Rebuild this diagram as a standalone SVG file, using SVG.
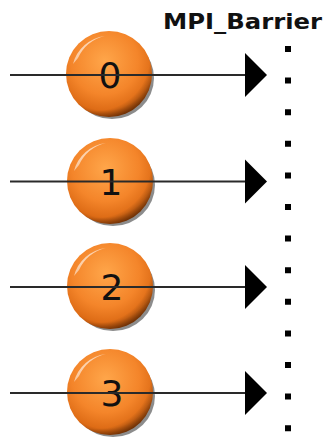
<svg xmlns="http://www.w3.org/2000/svg" width="326" height="437" viewBox="0 0 326 437">
<defs>
<radialGradient id="ball" cx="0.45" cy="0.35" r="0.65">
<stop offset="0" stop-color="#ffa64a"/>
<stop offset="0.6" stop-color="#f4852a"/>
<stop offset="0.88" stop-color="#de6c16"/>
<stop offset="1" stop-color="#a84a08"/>
</radialGradient>
<radialGradient id="shade" cx="0.35" cy="0.3" r="0.8">
<stop offset="0.78" stop-color="#000" stop-opacity="0"/>
<stop offset="1" stop-color="#000" stop-opacity="0.5"/>
</radialGradient>
<linearGradient id="hl" x1="0" y1="0" x2="1" y2="1">
<stop offset="0" stop-color="#fff" stop-opacity="0.9"/>
<stop offset="1" stop-color="#fff" stop-opacity="0.1"/>
</linearGradient>
<g id="sphere">
<ellipse cx="3" cy="4" rx="42" ry="41" fill="#000" opacity="0.45"/>
<circle r="43" fill="url(#ball)"/>
<circle r="43" fill="url(#shade)"/>
<path d="M-36,-10 A38,38 0 0 1 -4,-38 A40,40 0 0 0 -31,-16 Z" fill="url(#hl)"/>
</g>
</defs>
<style>
.lane{stroke:#2a2a2a;stroke-width:2;fill:none}
.head{fill:#000}
.num{font-family:"DejaVu Sans",sans-serif;font-size:36px;fill:#111;text-anchor:middle}
.title{font-family:"DejaVu Sans",sans-serif;font-weight:bold;font-size:21px;fill:#111}
.barrier{stroke:#000;stroke-width:6;stroke-dasharray:6 25.6}
</style>
<text class="title" x="163" y="29" textLength="159" lengthAdjust="spacingAndGlyphs">MPI_Barrier</text>
<g id="barrier"><line class="barrier" x1="288" y1="46" x2="288" y2="437"/></g>
<g id="p0"><use href="#sphere" x="109" y="74"/><text class="num" x="110" y="88">0</text></g>
<g id="p1"><use href="#sphere" x="110" y="181"/><text class="num" x="111" y="195">1</text></g>
<g id="p2"><use href="#sphere" x="110" y="286"/><text class="num" x="112" y="300">2</text></g>
<g id="p3"><use href="#sphere" x="110" y="392"/><text class="num" x="112" y="406">3</text></g>
<g id="connectors">
<line class="lane" x1="10" y1="75" x2="246" y2="75"/>
<path class="head" d="M245,53 L267,75 L245,97 Z"/>
<line class="lane" x1="10" y1="181.5" x2="246" y2="181.5"/>
<path class="head" d="M245,159.5 L267,181.5 L245,203.5 Z"/>
<line class="lane" x1="10" y1="287" x2="246" y2="287"/>
<path class="head" d="M245,265 L267,287 L245,309 Z"/>
<line class="lane" x1="10" y1="393" x2="246" y2="393"/>
<path class="head" d="M245,371 L267,393 L245,415 Z"/>
</g>
</svg>
